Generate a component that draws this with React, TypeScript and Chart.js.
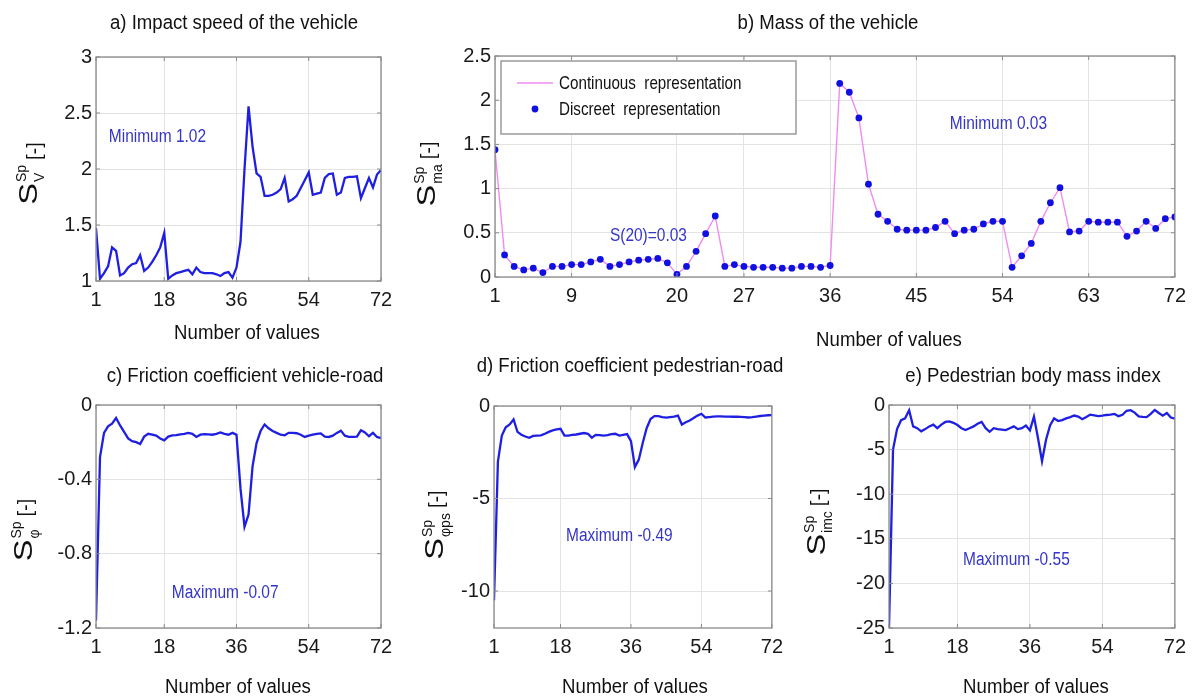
import React, { useEffect, useRef } from 'react';
import { Chart, registerables } from 'chart.js';

Chart.register(...registerables);

const FONT = '"Liberation Sans", Arial, Helvetica, sans-serif';

// ---------- data ----------
const speedValues = [
  1.47, 1.02, 1.07, 1.13, 1.30, 1.27, 1.05, 1.07, 1.12, 1.15,
  1.16, 1.23, 1.09, 1.12, 1.17, 1.23, 1.30, 1.43, 1.02, 1.05,
  1.07, 1.08, 1.09, 1.10, 1.06, 1.12, 1.08, 1.07, 1.07, 1.07,
  1.06, 1.045, 1.07, 1.08, 1.03, 1.12, 1.35, 2.0, 2.56, 2.2,
  1.96, 1.93, 1.76, 1.76, 1.77, 1.79, 1.82, 1.92, 1.71, 1.73,
  1.76, 1.83, 1.90, 1.97, 1.77, 1.78, 1.79, 1.92, 1.955, 1.96,
  1.77, 1.79, 1.92, 1.93, 1.93, 1.935, 1.74, 1.83, 1.92, 1.835,
  1.95, 1.99,
];

const massValues = [
  1.44, 0.25, 0.12, 0.08, 0.10, 0.05, 0.12, 0.12, 0.14, 0.14,
  0.17, 0.20, 0.12, 0.14, 0.17, 0.19, 0.20, 0.21, 0.16, 0.03,
  0.12, 0.29, 0.49, 0.69, 0.12, 0.14, 0.12, 0.11, 0.11, 0.11,
  0.10, 0.10, 0.12, 0.12, 0.11, 0.13, 2.19, 2.09, 1.80, 1.05,
  0.71, 0.63, 0.54, 0.53, 0.53, 0.53, 0.56, 0.63, 0.49, 0.53,
  0.54, 0.60, 0.63, 0.63, 0.11, 0.24, 0.38, 0.63, 0.84, 1.01,
  0.51, 0.52, 0.63, 0.62, 0.62, 0.62, 0.46, 0.52, 0.63, 0.55,
  0.66, 0.68,
];

const frictionVehicleValues = [
  -1.16, -0.28, -0.15, -0.115, -0.10, -0.07, -0.11, -0.145, -0.18, -0.195,
  -0.20, -0.21, -0.17, -0.155, -0.16, -0.165, -0.18, -0.19, -0.17, -0.163,
  -0.162, -0.158, -0.155, -0.15, -0.155, -0.172, -0.16, -0.157, -0.158, -0.16,
  -0.155, -0.148, -0.155, -0.16, -0.15, -0.16, -0.45, -0.655, -0.59, -0.33,
  -0.205, -0.14, -0.105, -0.125, -0.14, -0.15, -0.16, -0.163, -0.15, -0.15,
  -0.152, -0.16, -0.172, -0.165, -0.16, -0.155, -0.153, -0.17, -0.172, -0.165,
  -0.15, -0.138, -0.165, -0.172, -0.172, -0.17, -0.136, -0.148, -0.168, -0.15,
  -0.172, -0.178,
];

const frictionPedestrianValues = [
  -10.5, -3.0, -1.6, -1.15, -1.0, -0.73, -1.4, -1.55, -1.65, -1.72,
  -1.62, -1.6, -1.59, -1.5, -1.4, -1.32, -1.27, -1.23, -1.6, -1.6,
  -1.56, -1.54, -1.5, -1.46, -1.5, -1.71, -1.56, -1.57, -1.6, -1.58,
  -1.52, -1.5, -1.6, -1.56, -1.52, -1.9, -3.3, -2.9, -2.0, -1.2,
  -0.7, -0.55, -0.55, -0.6, -0.63, -0.6, -0.58, -0.52, -1.0, -0.88,
  -0.78, -0.65, -0.52, -0.42, -0.62, -0.6, -0.58, -0.56, -0.56, -0.57,
  -0.57, -0.58, -0.58, -0.59, -0.6, -0.62, -0.6, -0.57, -0.54, -0.52,
  -0.5, -0.49,
];

const bodyMassIndexValues = [
  -25, -5.0, -2.7, -1.7, -1.5, -0.6, -2.4, -2.6, -2.95, -2.7,
  -2.4, -2.2, -2.6, -2.2, -1.9, -1.83, -2.0, -2.25, -2.6, -2.8,
  -2.6, -2.4, -2.1, -1.9, -2.6, -3.0, -2.6, -2.7, -2.75, -2.82,
  -2.6, -2.4, -2.7, -2.6, -2.3, -2.85, -1.3, -3.7, -6.3, -3.9,
  -2.3, -1.5, -1.8, -1.7, -1.5, -1.35, -1.18, -1.3, -1.6, -1.35,
  -1.08, -1.15, -1.25, -1.2, -1.12, -1.07, -1.0, -1.25, -1.1, -0.65,
  -0.58, -0.85, -1.27, -1.32, -1.35, -1.0, -0.55, -0.9, -1.2, -0.9,
  -1.4, -1.53,
];

const xTicksStandard = [1, 18, 36, 54, 72];
const xTicksMass = [1, 9, 20, 27, 36, 45, 54, 63, 72];
const yTicksSpeed = [1, 1.5, 2, 2.5, 3];
const yTicksMass = [0, 0.5, 1, 1.5, 2, 2.5];
const yTicksFrictionVehicle = [-1.2, -0.8, -0.4, 0];
const yTicksFrictionPedestrian = [-10, -5, 0];
const yTicksBodyMass = [-25, -20, -15, -10, -5, 0];

// ---------- styles ----------
const LINE_BLUE = '#1f1fe2';
const PINK = '#f08cf0';
const DOT_BLUE = '#1010e0';
const NOTE_BLUE = '#3535c8';
const GRID = '#e3e3e3';
const FRAME = '#8a8a8a';
const TEXT = '#111111';

type Note = { text: string; x: number; y: number };
type PanelSpec = {
  id: string;
  box: [number, number, number, number];
  area: [number, number, number, number];
  values: number[];
  xTicks: number[];
  yTicks: number[];
  yMin: number;
  yMax: number;
  title: string;
  titlePos: [number, number];
  xTitlePos: [number, number];
  yLabel: { x: number; cy: number; sub: string; sup: string; shift?: number };
  notes: Note[];
  discrete?: boolean;
};

const PANELS: PanelSpec[] = [
  {
    id: 'a', box: [0, 0, 400, 352], area: [96, 57, 381, 281],
    values: speedValues, xTicks: xTicksStandard, yTicks: yTicksSpeed, yMin: 1, yMax: 3,
    title: 'a) Impact speed of the vehicle', titlePos: [234, 29], xTitlePos: [247, 339],
    yLabel: { x: 37, cy: 173.5, sub: 'V', sup: 'Sp', shift: 4 },
    notes: [{ text: 'Minimum 1.02', x: 4.2, y: 2.24 }],
  },
  {
    id: 'b', box: [400, 0, 793, 352], area: [495, 56, 1179, 277],
    values: massValues, xTicks: xTicksMass, yTicks: yTicksMass, yMin: 0, yMax: 2.5,
    title: 'b) Mass of the vehicle', titlePos: [828, 29], xTitlePos: [889, 346],
    yLabel: { x: 435, cy: 174, sub: 'ma', sup: 'Sp' },
    notes: [
      { text: 'S(20)=0.03', x: 13.0, y: 0.41 },
      { text: 'Minimum 0.03', x: 48.5, y: 1.67 },
    ],
    discrete: true,
  },
  {
    id: 'c', box: [0, 352, 400, 346], area: [96, 405, 381, 628],
    values: frictionVehicleValues, xTicks: xTicksStandard, yTicks: yTicksFrictionVehicle, yMin: -1.2, yMax: 0,
    title: 'c) Friction coefficient vehicle-road', titlePos: [245, 382], xTitlePos: [238, 693],
    yLabel: { x: 32, cy: 530, sub: 'φ', sup: 'Sp' },
    notes: [{ text: 'Maximum -0.07', x: 19.9, y: -1.04 }],
  },
  {
    id: 'd', box: [400, 352, 390, 346], area: [494, 406, 776, 628],
    values: frictionPedestrianValues, xTicks: xTicksStandard, yTicks: yTicksFrictionPedestrian, yMin: -12, yMax: 0,
    title: 'd) Friction coefficient pedestrian-road', titlePos: [630, 371.5], xTitlePos: [635, 693],
    yLabel: { x: 443, cy: 525, sub: 'φps', sup: 'Sp' },
    notes: [{ text: 'Maximum -0.49', x: 19.4, y: -7.28 }],
  },
  {
    id: 'e', box: [790, 352, 403, 346], area: [889, 405, 1179, 628],
    values: bodyMassIndexValues, xTicks: xTicksStandard, yTicks: yTicksBodyMass, yMin: -25, yMax: 0,
    title: 'e) Pedestrian body mass index', titlePos: [1033, 381.7], xTitlePos: [1036, 693],
    yLabel: { x: 825, cy: 522, sub: 'imc', sup: 'Sp' },
    notes: [{ text: 'Maximum -0.55', x: 19.4, y: -17.9 }],
  },
];

function hText(
  ctx: CanvasRenderingContext2D, text: string, x: number, y: number,
  size: number, sx: number, align: 'left' | 'center', color: string,
) {
  ctx.save();
  ctx.font = `${size}px ${FONT}`;
  ctx.fillStyle = color;
  ctx.textBaseline = 'alphabetic';
  ctx.textAlign = 'left';
  const w = ctx.measureText(text).width * sx;
  const x0 = align === 'center' ? x - w / 2 : x;
  ctx.translate(x0, y);
  ctx.scale(sx, 1);
  ctx.fillText(text, 0, 0);
  ctx.restore();
}

function drawYLabel(
  ctx: CanvasRenderingContext2D, x: number, cy: number, sub: string, sup: string, shift = 0,
) {
  ctx.save();
  ctx.translate(x, cy);
  ctx.rotate(-Math.PI / 2);
  ctx.fillStyle = TEXT;
  ctx.textBaseline = 'alphabetic';
  ctx.textAlign = 'left';
  const sStretch = 1.3;
  ctx.font = `25px ${FONT}`;
  const sW = ctx.measureText('S').width * sStretch;
  ctx.font = `14px ${FONT}`;
  const ssW = Math.max(ctx.measureText(sup).width, ctx.measureText(sub).width);
  ctx.font = `20px ${FONT}`;
  const bW = ctx.measureText('[-]').width;
  const gap = 5;
  const total = sW + 1 + ssW + gap + bW;
  let u = -total / 2;
  ctx.save();
  ctx.translate(u, 0);
  ctx.scale(sStretch, 1);
  ctx.font = `25px ${FONT}`;
  ctx.fillText('S', 0, 0);
  ctx.restore();
  u += sW + 1;
  ctx.font = `14px ${FONT}`;
  ctx.fillText(sup, u, -11);
  ctx.fillText(sub, u, 7);
  u += ssW + gap;
  ctx.font = `20px ${FONT}`;
  ctx.fillText('[-]', u, shift);
  ctx.restore();
}

function decorPlugin(p: PanelSpec) {
  return {
    id: 'decor-' + p.id,
    afterDraw(chart: any) {
      const ctx: CanvasRenderingContext2D = chart.ctx;
      const ca = chart.chartArea;
      const xs = chart.scales.x;
      const ys = chart.scales.y;
      const ox = p.box[0];
      const oy = p.box[1];
      ctx.save();
      // frame
      ctx.strokeStyle = FRAME;
      ctx.lineWidth = 1.3;
      ctx.strokeRect(ca.left, ca.top, ca.right - ca.left, ca.bottom - ca.top);
      // inward tick marks
      ctx.lineWidth = 1;
      ctx.beginPath();
      for (const v of p.xTicks) {
        const px = xs.getPixelForValue(v);
        ctx.moveTo(px, ca.bottom); ctx.lineTo(px, ca.bottom - 4);
        ctx.moveTo(px, ca.top); ctx.lineTo(px, ca.top + 4);
      }
      for (const v of p.yTicks) {
        const py = ys.getPixelForValue(v);
        ctx.moveTo(ca.left, py); ctx.lineTo(ca.left + 4, py);
        ctx.moveTo(ca.right, py); ctx.lineTo(ca.right - 4, py);
      }
      ctx.stroke();
      // titles
      hText(ctx, p.title, p.titlePos[0] - ox, p.titlePos[1] - oy, 20, 0.93, 'center', TEXT);
      hText(ctx, 'Number of values', p.xTitlePos[0] - ox, p.xTitlePos[1] - oy, 20, 0.93, 'center', TEXT);
      // notes
      for (const n of p.notes) {
        hText(ctx, n.text, xs.getPixelForValue(n.x), ys.getPixelForValue(n.y), 18, 0.86, 'left', NOTE_BLUE);
      }
      // y label
      drawYLabel(ctx, p.yLabel.x - ox, p.yLabel.cy - oy, p.yLabel.sub, p.yLabel.sup, p.yLabel.shift || 0);
      // legend for discrete panel
      if (p.discrete) {
        const lx = 501 - ox, ly = 61 - oy, lw = 295, lh = 73;
        ctx.fillStyle = '#ffffff';
        ctx.fillRect(lx, ly, lw, lh);
        ctx.strokeStyle = '#9a9a9a';
        ctx.lineWidth = 1.5;
        ctx.strokeRect(lx, ly, lw, lh);
        ctx.strokeStyle = PINK;
        ctx.lineWidth = 1.5;
        ctx.beginPath();
        ctx.moveTo(517 - ox, 83 - oy);
        ctx.lineTo(553 - ox, 83 - oy);
        ctx.stroke();
        ctx.fillStyle = DOT_BLUE;
        ctx.beginPath();
        ctx.arc(535 - ox, 109 - oy, 3.4, 0, Math.PI * 2);
        ctx.fill();
        hText(ctx, 'Continuous  representation', 559 - ox, 89 - oy, 19, 0.8, 'left', TEXT);
        hText(ctx, 'Discreet  representation', 559 - ox, 115 - oy, 19, 0.8, 'left', TEXT);
      }
      ctx.restore();
    },
  };
}

function buildConfig(p: PanelSpec): any {
  const [bl, bt, bw, bh] = p.box;
  const [al, at, ar, ab] = p.area;
  const yWidth = al - bl;
  const xHeight = bt + bh - ab;
  const padTop = at - bt;
  const padRight = bl + bw - ar;
  const points = p.values.map((v, i) => ({ x: i + 1, y: v }));
  const dataset = p.discrete
    ? {
        data: points, borderColor: PINK, borderWidth: 1.4, tension: 0,
        pointRadius: 3.4, pointBackgroundColor: DOT_BLUE, pointBorderWidth: 0, pointHoverRadius: 0,
      }
    : { data: points, borderColor: LINE_BLUE, borderWidth: 2.3, tension: 0, pointRadius: 0, pointHoverRadius: 0 };
  const tickFont = { size: 20, family: FONT };
  return {
    type: 'line',
    data: { datasets: [dataset] },
    options: {
      animation: false,
      responsive: false,
      maintainAspectRatio: false,
      events: [],
      layout: { padding: { left: 0, top: padTop, right: padRight, bottom: 0 } },
      plugins: { legend: { display: false }, tooltip: { enabled: false }, title: { display: false } },
      scales: {
        x: {
          type: 'linear', min: 1, max: 72,
          afterBuildTicks: (s: any) => { s.ticks = p.xTicks.map((v) => ({ value: v })); },
          afterFit: (s: any) => { s.height = xHeight; },
          grid: { color: GRID, drawTicks: false, lineWidth: 1 },
          border: { display: false },
          ticks: {
            font: tickFont, color: '#1a1a1a', padding: 7, maxRotation: 0, minRotation: 0,
            autoSkip: false, callback: (v: any) => String(v),
          },
        },
        y: {
          type: 'linear', min: p.yMin, max: p.yMax,
          afterBuildTicks: (s: any) => { s.ticks = p.yTicks.map((v) => ({ value: v })); },
          afterFit: (s: any) => { s.width = yWidth; },
          grid: { color: GRID, drawTicks: false, lineWidth: 1 },
          border: { display: false },
          ticks: {
            font: tickFont, color: '#1a1a1a', padding: 4, autoSkip: false,
            callback: (v: any) => String(v),
          },
        },
      },
    },
    plugins: [decorPlugin(p)],
  };
}

function PanelChart({ spec }: { spec: PanelSpec }) {
  const ref = useRef<HTMLCanvasElement>(null);
  useEffect(() => {
    const chart = new Chart(ref.current as HTMLCanvasElement, buildConfig(spec));
    return () => chart.destroy();
  }, [spec]);
  const [l, t, w, h] = spec.box;
  return (
    <canvas
      ref={ref}
      width={w}
      height={h}
      style={{ position: 'absolute', left: l, top: t, width: w, height: h }}
    />
  );
}

export default function App() {
  return (
    <div
      style={{
        position: 'absolute', left: 0, top: 0, width: 1193, height: 698,
        background: '#ffffff', overflow: 'hidden',
      }}
    >
      {PANELS.map((p) => (
        <PanelChart key={p.id} spec={p} />
      ))}
    </div>
  );
}
